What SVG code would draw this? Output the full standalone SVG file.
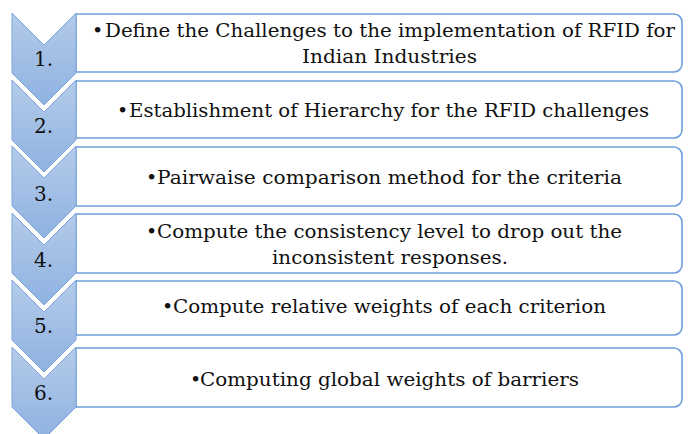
<svg xmlns="http://www.w3.org/2000/svg" width="689" height="434" viewBox="0 0 689 434">
<defs>
<linearGradient id="g" x1="0" y1="0" x2="0" y2="1">
<stop offset="0" stop-color="#b4cbea"/>
<stop offset="1" stop-color="#8fb2e0"/>
</linearGradient>
<style>
.chev{fill:url(#g);stroke:#7fa6dc;stroke-width:1}
.box{fill:#fff;stroke:#6d9fda;stroke-width:1.6}
.t{font-family:"DejaVu Serif","Liberation Serif",serif;font-size:19px;fill:#111}
.n{font-family:"DejaVu Serif","Liberation Serif",serif;font-size:20px;fill:#111}
</style>
</defs>
<rect width="689" height="434" fill="#fff"/>
<g id="step1">
<path class="box" d="M76,14 H674 A8,8 0 0 1 682,22 V64 A8,8 0 0 1 674,72 H76 Z"/>
<path class="chev" d="M12,13 L44,45 L76,13 L76,73 L44,105 L12,73 Z"/>
<text class="n" x="34" y="66">1.</text>
<text class="t" y="37"><tspan x="92">•</tspan><tspan x="105" textLength="570" lengthAdjust="spacingAndGlyphs">Define the Challenges to the implementation of RFID for</tspan></text>
<text class="t" x="302" y="63" textLength="175" lengthAdjust="spacingAndGlyphs">Indian Industries</text>
</g>
<g id="step2">
<path class="box" d="M76,81 H674 A8,8 0 0 1 682,89 V130 A8,8 0 0 1 674,138 H76 Z"/>
<path class="chev" d="M12,80 L44,112 L76,80 L76,140 L44,172 L12,140 Z"/>
<text class="n" x="34" y="133">2.</text>
<text class="t" y="117"><tspan x="117">•</tspan><tspan x="129" textLength="520" lengthAdjust="spacingAndGlyphs">Establishment of Hierarchy for the RFID challenges</tspan></text>
</g>
<g id="step3">
<path class="box" d="M76,147 H674 A8,8 0 0 1 682,155 V198 A8,8 0 0 1 674,206 H76 Z"/>
<path class="chev" d="M12,146 L44,178 L76,146 L76,206 L44,238 L12,206 Z"/>
<text class="n" x="34" y="201">3.</text>
<text class="t" y="184"><tspan x="146">•</tspan><tspan x="157" textLength="465" lengthAdjust="spacingAndGlyphs">Pairwaise comparison method for the criteria</tspan></text>
</g>
<g id="step4">
<path class="box" d="M76,214 H674 A8,8 0 0 1 682,222 V265 A8,8 0 0 1 674,273 H76 Z"/>
<path class="chev" d="M12,213 L44,245 L76,213 L76,273 L44,305 L12,273 Z"/>
<text class="n" x="34" y="267">4.</text>
<text class="t" y="238"><tspan x="146">•</tspan><tspan x="157" textLength="465" lengthAdjust="spacingAndGlyphs">Compute the consistency level to drop out the</tspan></text>
<text class="t" x="272" y="264" textLength="236" lengthAdjust="spacingAndGlyphs">inconsistent responses.</text>
</g>
<g id="step5">
<path class="box" d="M76,281 H674 A8,8 0 0 1 682,289 V327 A8,8 0 0 1 674,335 H76 Z"/>
<path class="chev" d="M12,280 L44,312 L76,280 L76,340 L44,372 L12,340 Z"/>
<text class="n" x="34" y="333">5.</text>
<text class="t" y="313"><tspan x="162">•</tspan><tspan x="173" textLength="433" lengthAdjust="spacingAndGlyphs">Compute relative weights of each criterion</tspan></text>
</g>
<g id="step6">
<path class="box" d="M76,348 H674 A8,8 0 0 1 682,356 V399 A8,8 0 0 1 674,407 H76 Z"/>
<path class="chev" d="M12,347 L44,379 L76,347 L76,407 L44,439 L12,407 Z"/>
<text class="n" x="34" y="400">6.</text>
<text class="t" y="386"><tspan x="190">•</tspan><tspan x="200" textLength="379" lengthAdjust="spacingAndGlyphs">Computing global weights of barriers</tspan></text>
</g>
<g id="connectors"/>
</svg>
